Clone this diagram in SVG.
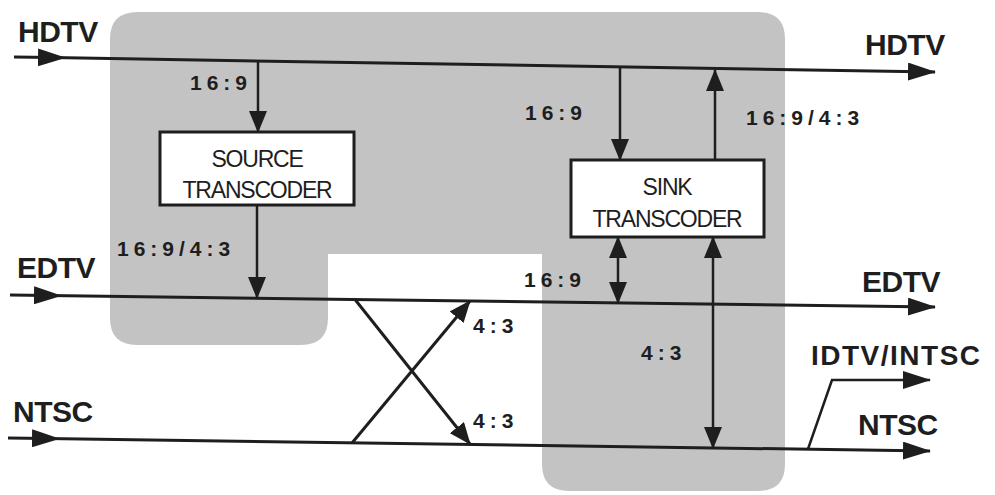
<svg xmlns="http://www.w3.org/2000/svg" width="995" height="495" viewBox="0 0 995 495">
<defs>
<style>
.lbl{font-family:"Liberation Sans",Arial,sans-serif;font-weight:bold;fill:#1e1e1e}
.big{font-size:30px;letter-spacing:-0.5px}
.rat{font-size:21px;letter-spacing:5px}
.box{fill:#fff;stroke:#1e1e1e;stroke-width:3}
.btxt{font-family:"Liberation Sans",Arial,sans-serif;font-size:23px;letter-spacing:-1.2px;fill:#1e1e1e;text-anchor:middle}
.main{fill:none;stroke:#1e1e1e;stroke-width:3}
.sub{fill:none;stroke:#1e1e1e;stroke-width:2.5}
</style>
<marker id="ah" markerUnits="userSpaceOnUse" markerWidth="28" markerHeight="18" refX="27" refY="9" orient="auto-start-reverse" viewBox="0 0 28 18">
<path d="M0,0 L28,9 L0,18 Z" fill="#1e1e1e"/>
</marker>
<marker id="am" markerUnits="userSpaceOnUse" markerWidth="28" markerHeight="18" refX="14" refY="9" orient="auto" viewBox="0 0 28 18">
<path d="M0,0 L28,9 L0,18 Z" fill="#1e1e1e"/>
</marker>
<marker id="as" markerUnits="userSpaceOnUse" markerWidth="22" markerHeight="18" refX="21" refY="9" orient="auto-start-reverse" viewBox="0 0 22 18">
<path d="M0,0 L22,9 L0,18 Z" fill="#1e1e1e"/>
</marker>
</defs>
<rect width="995" height="495" fill="#fff"/>
<g id="shade">
<path d="M138,12 H758 Q785,12 785,39 V464 Q785,491 758,491 H569 Q542,491 542,464 V254 H328 V318 Q328,345 301,345 H137 Q110,345 110,318 V39 Q110,12 138,12 Z" fill="#c3c3c3"/>
</g>
<g id="connectors">
<polyline class="main" points="14,57 52,57.6 935,72" marker-mid="url(#am)" marker-end="url(#ah)"/>
<polyline class="main" points="10,295 48,295.5 935,307" marker-mid="url(#am)" marker-end="url(#ah)"/>
<polyline class="main" points="8,438 46,438.5 930,451" marker-mid="url(#am)" marker-end="url(#ah)"/>
<line class="sub" x1="258" y1="61" x2="258" y2="132" marker-end="url(#as)"/>
<line class="sub" x1="257" y1="205" x2="257" y2="298" marker-end="url(#as)"/>
<line class="sub" x1="620" y1="67" x2="620" y2="160" marker-end="url(#as)"/>
<line class="sub" x1="715" y1="160" x2="715" y2="70" marker-end="url(#as)"/>
<line class="sub" x1="618" y1="237" x2="618" y2="303" marker-start="url(#as)" marker-end="url(#as)"/>
<line class="sub" x1="713" y1="237" x2="713" y2="448" marker-start="url(#as)" marker-end="url(#as)"/>
<line class="main" x1="355" y1="299.5" x2="470" y2="444" marker-end="url(#as)"/>
<line class="main" x1="352" y1="443" x2="470" y2="301" marker-end="url(#as)"/>
<polyline class="sub" points="808,449 832,380 930,380" marker-end="url(#ah)"/>
</g>
<g id="source">
<rect class="box" x="160" y="132" width="194" height="73"/>
<text class="btxt" x="257" y="167">SOURCE</text>
<text class="btxt" x="257" y="198">TRANSCODER</text>
</g>
<g id="sink">
<rect class="box" x="571" y="160" width="193" height="77"/>
<text class="btxt" x="667" y="195">SINK</text>
<text class="btxt" x="667" y="227">TRANSCODER</text>
</g>
<g id="labels">
<text class="lbl big" x="18" y="42">HDTV</text>
<text class="lbl big" x="865" y="55">HDTV</text>
<text class="lbl big" x="17" y="278">EDTV</text>
<text class="lbl big" x="862" y="292">EDTV</text>
<text class="lbl big" x="13" y="422">NTSC</text>
<text class="lbl big" x="858" y="435">NTSC</text>
<text class="lbl" x="811" y="365" style="font-size:28px;letter-spacing:1.5px">IDTV/INTSC</text>
<text class="lbl rat" x="190" y="90">16:9</text>
<text class="lbl rat" x="117" y="256">16:9/4:3</text>
<text class="lbl rat" x="525" y="120">16:9</text>
<text class="lbl rat" x="746" y="125">16:9/4:3</text>
<text class="lbl rat" x="524" y="287">16:9</text>
<text class="lbl rat" x="641" y="360">4:3</text>
<text class="lbl rat" x="473" y="333">4:3</text>
<text class="lbl rat" x="473" y="428">4:3</text>
</g>
</svg>
